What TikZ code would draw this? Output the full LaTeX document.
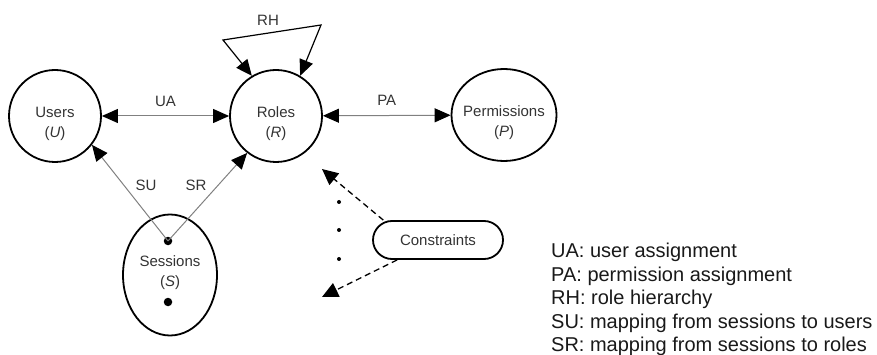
\documentclass[tikz,border=0pt]{standalone}
\usepackage{fontspec}
\setmainfont{Liberation Sans}
\usetikzlibrary{arrows.meta,shapes.geometric}
\begin{document}
\begin{tikzpicture}[x=1pt,y=-1pt,
  ent/.style={draw,line width=1.8pt,circle,minimum size=92pt,inner sep=0pt},
  ell/.style={draw,line width=1.8pt,ellipse,inner sep=0pt},
  lbl/.style={font=\fontsize{15}{20}\selectfont,text=black!80,align=center},
  gconn/.style={draw=black!50,line width=1pt,-{Triangle[length=16pt,width=14pt,color=black]}},
  gboth/.style={draw=black!50,line width=1pt,{Triangle[length=16pt,width=14pt,color=black]}-{Triangle[length=16pt,width=14pt,color=black]}},
  rhline/.style={draw=black,line width=1.2pt,{Triangle[length=16pt,width=14pt]}-{Triangle[length=16pt,width=14pt]}},
  dconn/.style={draw=black,line width=1.3pt,dash pattern=on 6pt off 4pt,-{Triangle[length=16pt,width=15pt]}},
  cons/.style={draw,line width=1.8pt,rectangle,rounded corners=19pt,minimum width=130pt,minimum height=38pt,font=\fontsize{15}{18}\selectfont,text=black!80},
  bigdot/.style={circle,fill=black,inner sep=0pt,minimum size=8.5pt},
  smalldot/.style={circle,fill=black,inner sep=0pt,minimum size=4pt},
  legend/.style={anchor=base west,inner sep=0pt,font=\fontsize{20}{23}\selectfont,text=black!90}
]
\useasboundingbox (0,0) rectangle (877,355);

% entities
\node[ent] (U) at (55,116) {};
\node[ent] (R) at (276,116) {};
\node[ell,minimum width=105pt,minimum height=92pt] (P) at (504,115) {};
\node[ell,minimum width=94pt,minimum height=121pt] (S) at (170,275) {};
\node[cons] (C) at (438,240) {Constraints};

% entity texts
\node[lbl] (Ut) at (55,124) {Users\\(\textit{U})};
\node[lbl] (Rt) at (276,124) {Roles\\(\textit{R})};
\node[lbl] (Pt) at (504,123) {Permissions\\(\textit{P})};
\node[lbl] (St) at (170,273) {Sessions\\(\textit{S})};

% session dots
\node[bigdot] (d1) at (168,241) {};
\node[bigdot] (d2) at (168,302) {};

% constraint dots
\node[smalldot] (e1) at (339,202) {};
\node[smalldot] (e2) at (339,230) {};
\node[smalldot] (e3) at (339,259) {};

% UA and PA
\draw[gboth] (U) -- (R) node[midway,above=6pt,lbl] (UA) {UA};
\draw[gboth] (R) -- (P) node[midway,above=6pt,lbl] (PA) {PA};

% RH
\coordinate (rh1) at (223,40);
\coordinate (rh2) at (321,25);
\draw[rhline] (R.121) -- (rh1) -- (rh2) -- (R.59);
\node[lbl] (RH) at (268,20) {RH};

% SU, SR
\draw[gconn] (d1.center) -- (U.-38);
\draw[gconn] (d1.center) -- (R.-128);
\node[lbl] (SU) at (146,185) {SU};
\node[lbl] (SR) at (196,185) {SR};

% constraints arrows
\coordinate (k1) at (322,169);
\coordinate (k2) at (322,297);
\draw[dconn] (C.160) -- (k1);
\draw[dconn] (C.-154) -- (k2);

% legend
\node[legend] (L1) at (551,257.5) {UA: user assignment};
\node[legend] (L2) at (551,281) {PA: permission assignment};
\node[legend] (L3) at (551,304.5) {RH: role hierarchy};
\node[legend] (L4) at (551,328) {SU: mapping from sessions to users};
\node[legend] (L5) at (551,351) {SR: mapping from sessions to roles};
\end{tikzpicture}
\end{document}
